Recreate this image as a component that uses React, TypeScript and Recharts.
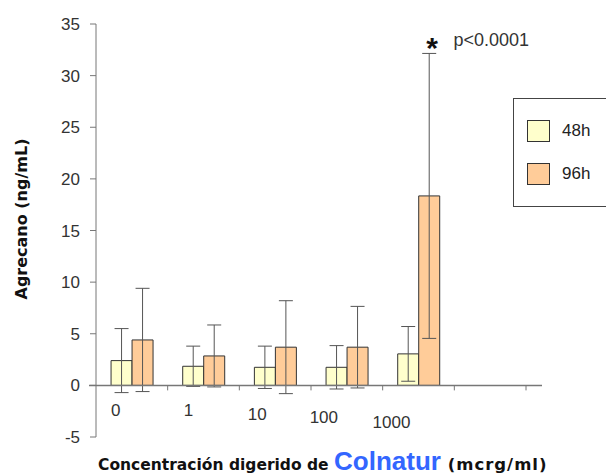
import {
  Bar,
  BarChart,
  ErrorBar,
  Legend,
  ReferenceDot,
  ReferenceLine,
  XAxis,
  YAxis,
} from 'recharts'

const CATEGORIES = ['0', '1', '10', '100', '1000', '']
const MEAN_48H = [2.4, 1.85, 1.75, 1.75, 3.05, null]
const ERR_48H = [3.1, 1.95, 2.05, 2.1, 2.65, null]
const MEAN_96H = [4.4, 2.85, 3.7, 3.7, 18.35, null]
const ERR_96H = [5.0, 3.0, 4.5, 3.95, 13.8, null]
const Y_TICKS = [-5, 0, 5, 10, 15, 20, 25, 30, 35]
const SIGNIFICANT = { category: '1000', label: 'p<0.0001' }

const data = CATEGORIES.map((c, i) => ({
  cat: c,
  h48: MEAN_48H[i],
  e48: ERR_48H[i],
  h96: MEAN_96H[i],
  e96: ERR_96H[i],
}))
const sigIndex = CATEGORIES.indexOf(SIGNIFICANT.category)
const sigTop = (MEAN_96H[sigIndex] ?? 0) + (ERR_96H[sigIndex] ?? 0)

const W = 606
const H = 475
const M = { top: 24, right: 80, bottom: 8, left: 0 }
const Y_W = 96
const X_H = 30
const PLOT_W = W - M.left - M.right - Y_W
const PLOT_H = H - M.top - M.bottom - X_H
const ZERO_Y = M.top + (PLOT_H * 35) / 40
const BAND = PLOT_W / CATEGORIES.length
const AXIS = '#777'
const TEXT = '#333'
const FONT = '"Liberation Sans", Arial, sans-serif'
const WIDE = '"DejaVu Sans", Verdana, sans-serif'

// hand-placed labels in the original sit a bit left and drift downward
const LABEL_DX = [-16, -15, -18, -23, -27, 0]
const LABEL_DY = [31, 31, 35, 38, 43, 0]

function CategoryTick(props: any) {
  const { x, index, payload } = props
  const left = x - BAND / 2
  return (
    <g>
      {index > 0 && <line x1={left} x2={left} y1={ZERO_Y} y2={ZERO_Y + 5} stroke={AXIS} />}
      {index === CATEGORIES.length - 1 && (
        <line x1={left + BAND} x2={left + BAND} y1={ZERO_Y} y2={ZERO_Y + 5} stroke={AXIS} />
      )}
      <text
        x={x + LABEL_DX[index]}
        y={ZERO_Y + LABEL_DY[index]}
        textAnchor="middle"
        fontSize={17}
        fontFamily={FONT}
        fill={TEXT}
      >
        {payload.value}
      </text>
    </g>
  )
}

function LegendBox(props: any) {
  const items = props.payload || []
  return (
    <div
      style={{
        width: 95,
        height: 109,
        border: '1px solid #444',
        boxSizing: 'border-box',
        background: '#fff',
        position: 'relative',
      }}
    >
      {items.map((e: any, i: number) => (
        <div
          key={e.value}
          style={{
            position: 'absolute',
            left: 13,
            top: 21 + i * 43,
            display: 'flex',
            alignItems: 'center',
          }}
        >
          <span
            style={{
              width: 23,
              height: 22,
              background: e.color,
              border: '1px solid #333',
              boxSizing: 'border-box',
              display: 'inline-block',
            }}
          />
          <span style={{ marginLeft: 12, fontSize: 17, fontFamily: FONT, color: '#222' }}>
            {e.value}
          </span>
        </div>
      ))}
    </div>
  )
}

export default function App() {
  return (
    <div style={{ position: 'absolute', left: 0, top: 0, width: W, height: H, overflow: 'hidden', background: '#fff' }}>
      <BarChart width={W} height={H} data={data} margin={M} barGap={0} barCategoryGap="21%">
        <XAxis
          dataKey="cat"
          height={X_H}
          axisLine={false}
          tickLine={false}
          interval={0}
          tick={(p: any) => <CategoryTick {...p} />}
          label={() => (
            <text x={98} y={470} fontFamily={FONT} fill="#111">
              <tspan fontFamily={WIDE} fontWeight="bold" fontSize={15.5}>
                Concentración digerido de{' '}
              </tspan>
              <tspan fontWeight="bold" fontSize={26} fill="#3366ff">
                Colnatur
              </tspan>
              <tspan fontFamily={WIDE} fontWeight="bold" fontSize={16.5} letterSpacing={1}>
                {' '}(mcrg/ml)
              </tspan>
            </text>
          )}
        />
        <YAxis
          width={Y_W}
          domain={[-5, 35]}
          ticks={Y_TICKS}
          interval={0}
          stroke={AXIS}
          tickSize={6}
          tickMargin={10}
          tick={{ fill: TEXT, fontSize: 17, fontFamily: FONT }}
          label={() => (
            <text
              x={27}
              y={219}
              transform="rotate(-90, 27, 219)"
              textAnchor="middle"
              fontFamily={WIDE}
              fontWeight="bold"
              fontSize={16}
              fill="#111"
            >
              Agrecano (ng/mL)
            </text>
          )}
        />
        <Legend
          layout="vertical"
          align="center"
          verticalAlign="middle"
          content={(p: any) => <LegendBox {...p} />}
          wrapperStyle={{ left: 513, top: 98, width: 95, height: 109 }}
        />
        <Bar dataKey="h48" name="48h" fill="#ffffcc" stroke="#333" isAnimationActive={false}>
          <ErrorBar dataKey="e48" width={7} stroke="#555" strokeWidth={1} direction="y" />
        </Bar>
        <Bar dataKey="h96" name="96h" fill="#ffcc99" stroke="#333" isAnimationActive={false}>
          <ErrorBar dataKey="e96" width={7} stroke="#555" strokeWidth={1} direction="y" />
        </Bar>
        <ReferenceLine
          y={0}
          shape={(p: any) => (
            <line x1={p.x1 - 7} y1={p.y1} x2={p.x2 + 16} y2={p.y2} stroke={AXIS} strokeWidth={1.5} />
          )}
        />
        <ReferenceDot
          x={SIGNIFICANT.category}
          y={sigTop}
          shape={(p: any) => (
            <g>
              <text x={p.cx + 13.5} y={p.cy + 5} textAnchor="middle" fontSize={30} fontWeight="bold" fontFamily={FONT} fill="#111">
                *
              </text>
              <text x={p.cx + 35} y={p.cy - 7.5} fontSize={18} fontFamily={FONT} fill={TEXT}>
                {SIGNIFICANT.label}
              </text>
            </g>
          )}
        />
      </BarChart>
    </div>
  )
}
